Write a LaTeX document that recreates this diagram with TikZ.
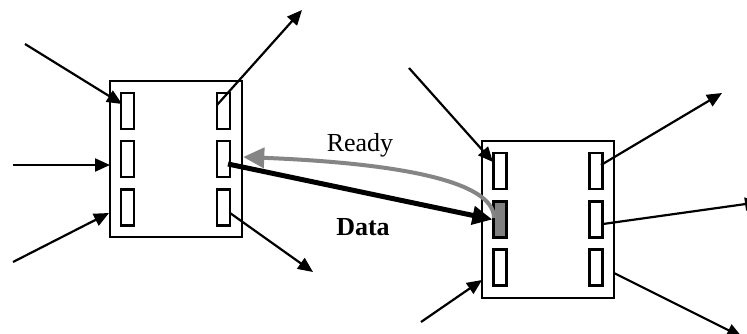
\documentclass[tikz,border=0pt]{standalone}
\usepackage{fontspec}
\setmainfont{Liberation Serif}
\usetikzlibrary{arrows.meta}
\begin{document}
\begin{tikzpicture}[x=1pt,y=-1pt,
  box/.style={draw,line width=2.5pt,minimum width=132pt,minimum height=156pt,inner sep=0pt},
  slot/.style={draw,line width=2.2pt,minimum width=13pt,minimum height=36pt,inner sep=0pt},
  shaded/.style={slot,fill=black!50},
  wire/.style={line width=2.2pt,-{Triangle[length=15pt,width=13pt]}},
  dataarr/.style={line width=5pt,-{Triangle[length=20pt,width=18pt]}},
  readyarr/.style={line width=4pt,draw=black!48,-{Triangle[length=21pt,width=20pt]}},
  lbl/.style={font=\fontsize{26}{30}\selectfont,anchor=base,inner sep=0pt}]
\useasboundingbox (0,0) rectangle (747,333);
\clip (0,0) rectangle (747,333);
\fill[white] (0,0) rectangle (747,333);
% left box
\node[box] (A) at (176,159) {};
\node[slot] (A11) at (127.5,111) {};
\node[slot] (A21) at (127.5,159) {};
\node[slot] (A31) at (127.5,207.5) {};
\node[slot] (A12) at (223.5,111) {};
\node[slot] (A22) at (223.5,159) {};
\node[slot] (A32) at (223.5,207.5) {};
% right box
\node[box,minimum height=157pt] (B) at (548,219.5) {};
\node[slot] (B11) at (500,171) {};
\node[shaded] (B21) at (500,219.5) {};
\node[slot] (B31) at (500,267.5) {};
\node[slot] (B12) at (596,171) {};
\node[slot] (B22) at (596,219.5) {};
\node[slot] (B32) at (596,267.5) {};
% free ends
\coordinate (a1s) at (25,44);   \coordinate (a1t) at (122,104);
\coordinate (a2s) at (13,165);  \coordinate (a2t) at (110,165);
\coordinate (a3s) at (13,262);  \coordinate (a3t) at (109,213);
\coordinate (o1s) at (217,105); \coordinate (o1t) at (302,10);
\coordinate (o2s) at (230,213); \coordinate (o2t) at (313,272);
\coordinate (b1s) at (409,68);  \coordinate (b1t) at (493,162);
\coordinate (b2s) at (421,322); \coordinate (b2t) at (482,280);
\coordinate (p1s) at (601,165); \coordinate (p1t) at (722,93);
\coordinate (p2s) at (603,224); \coordinate (p2t) at (760,202);
\coordinate (p3s) at (614,273); \coordinate (p3t) at (742,337);
\draw[wire] (a1s) -- (a1t);
\draw[wire] (a2s) -- (a2t);
\draw[wire] (a3s) -- (a3t);
\draw[wire] (o1s) -- (o1t);
\draw[wire] (o2s) -- (o2t);
\draw[wire] (b1s) -- (b1t);
\draw[wire] (b2s) -- (b2t);
\draw[wire] (p1s) -- (p1t);
\draw[wire] (p2s) -- (p2t);
\draw[wire] (p3s) -- (p3t);
% data and ready
\coordinate (ds) at (228,164);
\draw[dataarr] (ds) -- (B21.west);
\coordinate (rs) at (494,218);
\draw[readyarr] (rs) .. controls +(0,-38) and +(150,6) .. (A.east |- 0,157);
\node[lbl] (ready) at (360,151) {Ready};
\node[lbl,font=\fontsize{26}{30}\selectfont\bfseries] (data) at (363,235) {Data};
\end{tikzpicture}
\end{document}
